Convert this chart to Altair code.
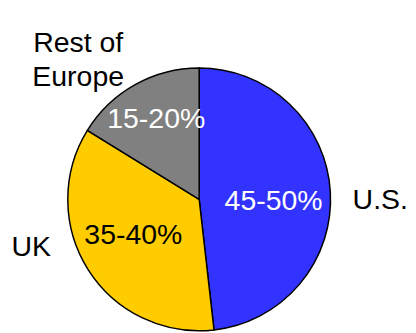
import altair as alt
import pandas as pd

regions = ["U.S.", "UK", "Rest of Europe"]
shares = [48.2, 35.6, 16.2]
ranges = ["45-50%", "35-40%", "15-20%"]
outer_labels = ["U.S.", "UK", "Rest of\nEurope"]
colors = ["#3333FF", "#FFCC00", "#808080"]
inner_text_colors = ["white", "black", "white"]
order = [0, 1, 2]

df = pd.DataFrame({
    "region": regions,
    "share": shares,
    "range": ranges,
    "outer": outer_labels,
    "order": order,
})

CX, CY = 195, 192
FONT = "Liberation Sans"
FS = 29

pie = alt.Chart(df).mark_arc(outerRadius=134, stroke="black", strokeWidth=1.5).encode(
    theta=alt.Theta("share:Q", stack=True),
    order=alt.Order("order:Q"),
    x=alt.value(CX),
    y=alt.value(CY),
    color=alt.Color("region:N", scale=alt.Scale(domain=regions, range=colors), legend=None),
)

label_base = alt.Chart(df).transform_window(
    cum="sum(share)", sort=[alt.SortField("order")]
).transform_joinaggregate(
    total="sum(share)"
).transform_calculate(
    mid="(datum.cum - datum.share / 2) / datum.total"
).encode(
    theta=alt.Theta("mid:Q", scale=alt.Scale(domain=[0, 1], range=[0, 6.283185307179586]), stack=None),
    x=alt.value(CX),
    y=alt.value(CY),
)

label_layers = []

inner_adj = {"U.S.": (74, 2, 6), "UK": (76, -3, -4), "Rest of Europe": (94, 2, 0)}
outer_adj = {"U.S.": (182, 3, 11), "UK": (178, -21, -47), "Rest of Europe": (202, -25, 17)}

for i, r in enumerate(regions):
    rad, dx, dy = inner_adj[r]
    label_layers.append(
        label_base.transform_filter(alt.datum.region == r)
        .mark_text(radius=rad, dx=dx, dy=dy, font=FONT, fontSize=FS,
                   color=inner_text_colors[i], align="center", baseline="middle")
        .encode(text="range:N")
    )
    rad, dx, dy = outer_adj[r]
    label_layers.append(
        label_base.transform_filter(alt.datum.region == r)
        .mark_text(radius=rad, dx=dx, dy=dy, font=FONT, fontSize=FS, lineBreak="\n",
                   lineHeight=35, color="black", align="center", baseline="middle")
        .encode(text="outer:N")
    )

chart = alt.layer(pie, alt.layer(*label_layers)).resolve_scale(
    theta="independent"
).properties(
    width=408, height=325, padding=0, autosize="none"
).configure_view(stroke=None)

chart.save("out.html", embed_options={"renderer": "svg", "actions": False})
